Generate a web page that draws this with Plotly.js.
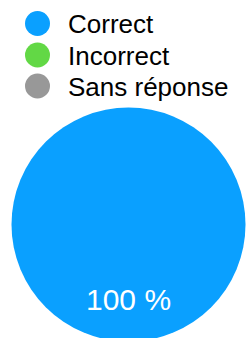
<!DOCTYPE html>
<html>
<head>
<meta charset="utf-8">
<script src="https://cdn.plot.ly/plotly-3.0.1.min.js"></script>
<style>
html,body{margin:0;padding:0;background:#fff;overflow:hidden;width:248px;height:338px;}
#chart{width:248px;height:345px;}
</style>
</head>
<body>
<div id="chart"></div>
<script>
// Data
const categories = ["Correct", "Incorrect", "Sans réponse"];
const values = [100, 0, 0];
const colors = ["#0aa0ff", "#62d845", "#989898"];

const W = 248, H = 345;
const px = x => x / W;
const py = y => 1 - y / H;

// Pie geometry (pixels)
const cx = 128.5, cy = 224.5, R = 117;

const total = values.reduce((a, b) => a + b, 0);

const shapes = [];
const annotations = [];
const legendY = [23.5, 55, 86];
categories.forEach((c, i) => {
  const ly = legendY[i];
  shapes.push({
    type: "circle", xref: "paper", yref: "paper",
    x0: px(25), x1: px(50), y0: py(ly + 12.5), y1: py(ly - 12.5),
    fillcolor: colors[i], line: {width: 0}
  });
  annotations.push({
    xref: "paper", yref: "paper", x: px(66), y: py(ly + 1),
    xanchor: "left", yanchor: "middle", showarrow: false,
    text: c, font: {family: "Liberation Sans, Arial, sans-serif", size: 26, color: "#000"}
  });
});

// slice labels, placed at slice mid-angle (clockwise from top)
let acc = 0;
values.forEach((v, i) => {
  if (v <= 0) { return; }
  const mid = (acc + v / 2) / total * 2 * Math.PI;
  acc += v;
  const r = 0.645 * R;
  const x = cx + r * Math.sin(mid);
  const y = cy - r * Math.cos(mid);
  annotations.push({
    xref: "paper", yref: "paper", x: px(x), y: py(y),
    xanchor: "center", yanchor: "middle", showarrow: false,
    text: Math.round(v / total * 100) + " %",
    font: {family: "Liberation Sans, Arial, sans-serif", size: 30, color: "#fff", weight: 300}
  });
});

const trace = {
  type: "pie",
  labels: categories,
  values: values,
  marker: {colors: colors, line: {width: 0}},
  sort: false,
  direction: "clockwise",
  rotation: 0,
  textinfo: "none",
  hoverinfo: "none",
  showlegend: false,
  domain: {x: [(cx - R) / W, (cx + R) / W], y: [(H - cy - R) / H, (H - cy + R) / H]}
};

Plotly.newPlot("chart", [trace], {
  width: W, height: H,
  margin: {l: 0, r: 0, t: 0, b: 0},
  paper_bgcolor: "#fff",
  showlegend: false,
  shapes: shapes,
  annotations: annotations
}, {staticPlot: true, displayModeBar: false});
</script>
</body>
</html>
